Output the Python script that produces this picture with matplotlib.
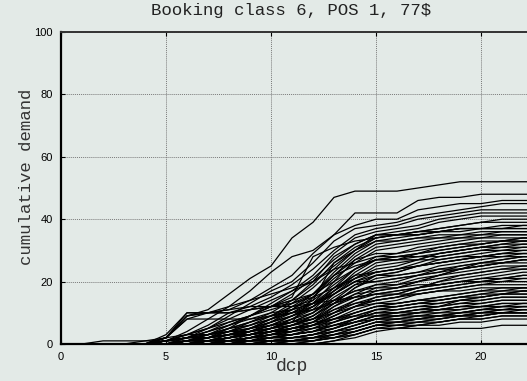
import matplotlib
matplotlib.use("Agg")
import matplotlib.pyplot as plt

# days-to-departure index (dcp), 0..23
dcp = list(range(24))

# cumulative demand per simulated run
high_runs = [
    [0,0,0,0,0,2,9,11,16,21,25,34,39,47,49,49,49,50,51,52,52,52,52,52],
    [0,0,0,0,0,1,4,8,12,17,23,28,30,35,42,42,42,46,47,47,48,48,48,48],
    [0,0,0,0,0,2,10,10,11,14,18,22,29,35,38,40,40,43,44,45,45,46,46,46],
    [0,0,0,0,0,0,2,5,9,13,17,20,26,33,37,38,39,41,42,43,44,45,45,45],
    [0,0,0,0,0,1,3,6,10,12,15,19,24,30,35,37,38,40,41,42,43,43,43,43],
    [0,0,0,0,0,0,1,3,6,9,13,17,22,29,34,36,37,38,40,41,42,42,42,42],
    [0,0,0,0,0,0,2,4,7,9,12,16,21,27,32,35,36,37,39,40,41,41,41,41],
    [0,0,0,0,0,0,1,2,4,7,10,14,19,26,31,34,35,36,37,38,39,40,40,40],
    [0,0,0,0,0,2,9,10,12,14,16,18,20,25,30,34,35,36,37,38,39,39,39,39],
    [0,0,0,0,0,0,0,1,3,5,8,12,16,23,29,33,34,35,36,37,37,38,38,38],
    [0,0,0,0,0,1,2,4,6,9,12,15,28,31,33,34,35,35,36,37,37,37,38,38],
]

mid_runs = [
    [0,0,0,0,0,0,1,2,4,6,9,13,18,24,30,35,35,35,36,36,37,37,37,37],
    [0,0,0,0,0,1,3,5,7,9,11,13,16,22,28,32,33,34,35,35,36,36,36,36],
    [0,0,0,0,0,0,0,1,2,4,6,9,13,20,27,31,32,33,34,34,35,35,35,35],
    [0,0,0,0,0,0,1,2,3,5,8,11,15,21,26,30,31,32,33,34,34,35,35,35],
    [0,0,0,0,0,0,0,0,1,3,5,8,12,18,24,28,29,31,32,33,34,34,34,34],
    [0,0,0,0,0,1,2,3,5,7,9,12,14,19,24,27,28,29,31,32,33,33,34,34],
    [0,0,0,0,0,0,1,1,2,4,6,8,11,17,22,26,27,29,30,31,32,33,33,33],
    [0,0,0,0,0,0,0,1,2,3,5,7,10,16,21,24,25,27,29,30,31,32,33,33],
    [0,0,0,0,0,0,1,2,4,5,7,10,13,18,22,23,24,26,28,29,30,31,32,32],
    [0,0,0,0,0,0,0,0,1,2,4,6,9,14,19,22,23,25,27,28,29,30,31,31],
    [0,0,0,0,0,1,2,3,4,6,8,10,12,16,20,22,23,25,26,27,28,29,30,30],
    [0,0,0,0,0,0,0,1,1,2,4,6,8,13,18,21,22,23,25,26,27,28,29,29],
    [0,0,0,0,0,0,1,1,2,3,5,8,10,15,19,20,21,22,24,25,26,27,28,28],
    [0,0,0,0,0,0,0,0,0,1,3,5,7,12,16,19,20,22,23,24,25,26,27,27],
    [0,0,0,0,0,0,0,1,2,3,4,6,8,12,15,18,19,21,22,24,25,26,27,27],
    [0,0,0,0,0,1,1,2,3,4,6,7,9,13,16,17,18,20,21,22,23,24,25,25],
    [0,0,0,0,0,0,0,0,1,2,3,5,7,11,14,16,17,18,20,21,22,23,24,24],
    [0,0,0,0,0,0,0,1,1,2,3,4,6,10,13,15,16,18,19,20,21,22,23,23],
    [0,0,0,0,0,0,1,2,3,4,5,6,8,11,13,14,15,17,18,19,20,21,22,22],
    [0,0,0,0,0,0,0,0,0,1,2,3,5,8,11,13,14,16,17,18,19,20,21,21],
    [0,0,0,0,0,0,0,1,2,3,5,7,10,14,17,18,18,19,19,20,20,21,21,21],
    [0,0,0,0,0,0,0,0,1,2,3,5,6,9,12,14,15,17,18,19,20,20,20,20],
    [0,0,0,0,0,2,8,10,10,11,12,14,16,20,24,27,27,27,27,28,28,29,29,29],
    [0,0,0,0,0,1,3,5,8,11,14,17,20,24,26,28,28,28,29,30,31,31,31,31],
    [0,0,0,0,0,0,1,2,3,4,5,7,15,22,25,27,27,28,28,29,30,30,30,30],
    [0,0,0,0,0,0,0,1,2,3,4,5,7,10,14,17,18,20,22,24,26,26,27,27],
    [0,0,0,0,0,0,0,0,1,1,2,4,6,9,12,15,16,18,20,22,23,24,24,24],
    [0,0,0,0,0,1,2,4,6,8,10,11,13,16,20,23,24,25,26,27,28,29,29,29],
    [0,0,0,0,0,0,1,3,5,7,9,11,13,17,21,25,26,27,29,30,31,32,32,32],
    [0,0,0,0,0,0,0,1,3,5,7,9,12,17,23,27,28,29,30,31,32,33,34,34],
    [0,0,0,0,0,2,9,10,10,11,12,12,13,14,15,16,16,16,17,17,18,18,18,18],
    [0,0,0,0,0,2,8,8,8,8,9,10,11,13,15,16,17,18,19,20,21,21,22,22],
    [0,0,0,0,0,3,10,10,11,12,12,13,15,18,21,23,24,25,26,27,28,28,28,28],
    [0,0,0,0,0,0,0,2,5,9,12,14,20,28,32,35,35,36,36,37,37,37,37,37],
    [0,0,0,0,0,0,1,3,5,6,8,10,14,26,30,33,33,34,34,35,35,36,36,36],
    [0,0,0,0,0,0,0,0,2,4,6,9,12,16,20,20,21,22,23,25,26,27,28,28],
    [0,0,0,0,0,1,2,2,3,5,7,9,11,14,17,19,19,20,22,23,24,25,25,25],
    [0,0,0,0,0,0,0,1,2,4,7,11,16,22,27,29,29,30,31,32,32,33,33,33],
    [0,0,0,0,0,0,0,0,0,2,4,6,9,13,18,22,22,23,24,24,25,26,26,26],
]

low_runs = [
    [0,0,0,0,0,0,0,0,1,2,3,4,6,9,12,14,15,16,17,18,19,19,19,19],
    [0,0,0,0,0,0,0,0,0,1,2,3,4,7,10,12,13,14,15,16,17,18,18,18],
    [0,0,0,0,0,0,1,1,2,3,4,5,6,8,10,12,13,14,15,16,17,17,18,18],
    [0,0,0,0,0,0,0,0,0,0,1,2,3,5,8,11,12,13,14,15,16,17,17,17],
    [0,0,0,0,0,0,0,1,1,2,3,4,5,7,9,11,12,13,14,15,16,16,17,17],
    [0,0,0,0,0,0,0,0,1,1,2,3,4,6,8,10,11,12,13,14,15,16,16,16],
    [0,0,0,0,0,1,2,3,4,5,6,7,8,10,12,13,13,14,14,15,15,16,16,16],
    [0,0,0,0,0,0,0,0,0,1,1,2,3,5,7,9,10,11,12,13,14,15,15,15],
    [0,0,0,0,0,0,0,1,2,3,4,5,6,8,10,12,12,13,13,14,14,15,15,15],
    [0,0,0,0,0,0,0,0,0,0,1,1,2,4,6,8,9,10,11,12,13,14,14,14],
    [0,0,0,0,0,0,1,2,3,3,4,5,6,7,9,11,11,12,12,13,13,14,14,14],
    [0,0,0,0,0,0,0,0,1,1,2,3,4,5,7,9,10,11,11,12,12,13,13,13],
    [0,0,0,0,0,0,0,0,0,1,2,2,3,5,7,9,9,10,11,12,12,13,13,13],
    [0,0,0,0,0,0,0,0,0,0,0,1,2,4,6,8,9,10,10,11,12,12,12,12],
    [0,0,0,0,0,0,0,1,1,2,3,3,4,6,8,10,10,10,11,11,12,12,12,12],
    [0,0,0,0,0,0,0,0,0,1,1,2,3,4,6,8,8,9,10,10,11,11,11,11],
    [0,0,0,0,0,0,0,0,0,0,1,1,2,3,5,7,8,8,9,10,10,11,11,11],
    [0,0,0,0,0,0,0,0,1,1,2,2,3,4,5,7,7,8,8,9,9,10,10,10],
    [0,0,0,0,0,0,0,0,0,0,0,1,1,3,4,6,7,7,8,9,9,10,10,10],
    [0,0,0,0,0,0,0,0,0,1,1,1,2,3,4,6,6,7,7,8,8,9,9,9],
    [0,0,0,0,0,0,0,0,0,0,0,0,1,2,3,5,6,6,7,8,8,9,9,9],
    [0,0,0,0,0,0,0,0,0,0,1,1,2,2,3,5,5,6,6,7,7,8,8,8],
    [0,0,0,0,0,0,0,0,0,0,0,0,0,1,3,5,5,5,5,5,5,6,6,6],
    [0,0,1,1,1,1,2,2,3,3,4,4,5,6,7,8,8,9,9,10,11,12,12,12],
    [0,0,0,0,1,2,3,3,4,4,5,6,7,8,9,9,9,9,9,9,10,10,10,10],
    [0,0,0,0,0,0,0,0,0,0,1,2,2,3,5,7,7,8,9,9,10,10,10,10],
    [0,0,0,0,0,0,0,0,0,0,0,0,0,1,2,4,5,6,7,8,9,10,11,11],
    [0,0,0,0,0,0,0,0,0,0,0,1,1,2,4,6,6,7,8,9,10,11,12,12],
    [0,0,0,0,0,0,0,0,0,0,0,0,1,2,4,6,7,8,9,10,11,12,13,13],
    [0,0,0,0,0,0,0,0,1,2,2,3,4,6,8,10,10,11,12,14,15,16,17,17],
]

x_ticks = [0, 5, 10, 15, 20]
y_ticks = [0, 20, 40, 60, 80, 100]

bg = "#e3eae7"

fig = plt.figure(figsize=(5.27, 3.81), dpi=100, facecolor=bg)
ax = fig.add_axes([61 / 527, 37 / 381, 466 / 527, 312 / 381], facecolor=bg)

for run in high_runs + mid_runs + low_runs:
    ax.plot(dcp, run, color="black", lw=0.9)

ax.set_xlim(0, 466 / 21)
ax.set_ylim(0, 100)
ax.set_xticks(x_ticks)
ax.set_yticks(y_ticks)
ax.grid(True, color="#7a7a7a", linestyle=(0, (1, 1)), lw=0.7)
ax.set_axisbelow(True)

for side in ["left", "bottom"]:
    ax.spines[side].set_linewidth(1.6)
    ax.spines[side].set_color("black")
ax.spines["top"].set_linewidth(1.4)
ax.spines["top"].set_color("#333333")
ax.spines["right"].set_visible(False)

ax.tick_params(direction="in", length=3, width=0.8, labelsize=8, pad=6,
               top=True, colors="black")
for lab in ax.get_xticklabels() + ax.get_yticklabels():
    lab.set_family("Liberation Sans")

mono = "Liberation Mono"
fig.text(291 / 527, 1 - 11 / 381, "Booking class 6, POS 1, 77$",
         family=mono, fontsize=12.5, ha="center", va="center", color="#222222")
ax.set_xlabel("dcp", family=mono, fontsize=13, color="#333333")
ax.xaxis.set_label_coords(0.495, -0.045)
ax.set_ylabel("cumulative demand", family=mono, fontsize=12.5, color="#333333")
ax.yaxis.set_label_coords(-0.058, 0.535)

fig.savefig("out.png", dpi=100, facecolor=bg)
